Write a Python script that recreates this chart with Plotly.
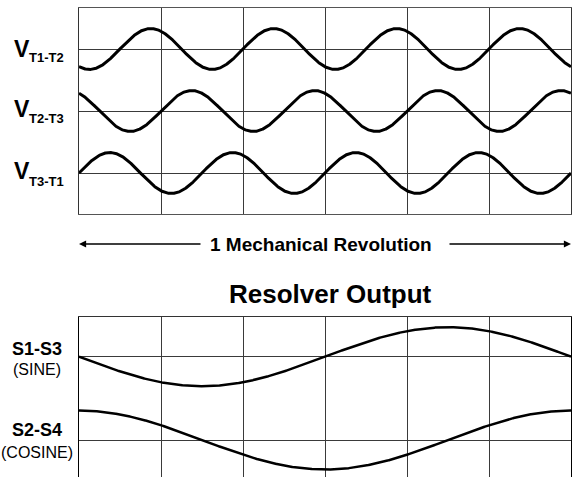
import numpy as np
import plotly.graph_objects as go

# ---- data ----
revolution_deg = [0, 360]
grid_x_deg = [0, 60, 120, 180, 240, 300, 360]

top_names = ["T1-T2", "T2-T3", "T3-T1"]
top_offsets = [2, 1, 0]
top_phase_deg = [-120, 120, 0]
top_cycles = 4
top_amp = 0.33

bot_names = ["S1-S3", "S2-S4"]
bot_sub = ["(SINE)", "(COSINE)"]
bot_offsets = [1, 0]
bot_phase_deg = [180, 90]
bot_cycles = 1
bot_amp = 0.354

# ---- layout geometry (pixels) ----
W, H = 572, 477
L, R, T, B = 79, 1, 8, 0
PW, PH = W - L - R, H - T - B


def px(xp):
    return (xp - L) / PW


def py(yp):
    return 1 - (yp - T) / PH


FONT = "Liberation Sans, Arial, sans-serif"
theta = np.linspace(revolution_deg[0], revolution_deg[1], 1441)

fig = go.Figure()
for off, ph, name in zip(top_offsets, top_phase_deg, top_names):
    y = off + top_amp * np.sin(np.radians(top_cycles * theta + ph))
    fig.add_trace(go.Scatter(x=theta, y=y, mode="lines", name=name,
                             line=dict(color="black", width=3),
                             xaxis="x", yaxis="y", showlegend=False,
                             hoverinfo="skip"))
for off, ph, name in zip(bot_offsets, bot_phase_deg, bot_names):
    y = off + bot_amp * np.sin(np.radians(bot_cycles * theta + ph))
    fig.add_trace(go.Scatter(x=theta, y=y, mode="lines", name=name,
                             line=dict(color="black", width=2.5),
                             xaxis="x2", yaxis="y2", showlegend=False,
                             hoverinfo="skip"))

grid_col = "#3a3a3a"
axis_common = dict(showticklabels=False, ticks="", zeroline=False,
                   showgrid=True, gridcolor=grid_col, gridwidth=1,
                   fixedrange=True)

fig.update_layout(
    width=W, height=H,
    margin=dict(l=L, r=R, t=T, b=B, pad=0),
    paper_bgcolor="white", plot_bgcolor="white",
    font=dict(family=FONT, color="black"),
    xaxis=dict(domain=[0, 1], range=revolution_deg, tickvals=grid_x_deg,
               showline=True, mirror=True, linecolor="#555", linewidth=1,
               anchor="y", **axis_common),
    yaxis=dict(domain=[py(214), 1], range=[-41 / 62, 2 + 41 / 62],
               tickvals=top_offsets, showline=True, mirror=True,
               linecolor="#333", linewidth=1, anchor="x", **axis_common),
    xaxis2=dict(domain=[0, 1], range=revolution_deg, tickvals=grid_x_deg,
                showline=True, mirror=False, side="top", linecolor="#333",
                linewidth=1, anchor="y2", **axis_common),
    yaxis2=dict(domain=[0, py(316.7)], range=[-37 / 83.3, 1 + 40 / 83.3],
                tickvals=bot_offsets, showline=True, mirror=True,
                linecolor="black", linewidth=1, anchor="x2", **axis_common),
)

ann = []
# V labels
v_centers = [49, 109.5, 170.5]
sub_centers = [57.5, 119, 181]
for name, vc, sc in zip(top_names, v_centers, sub_centers):
    ann.append(dict(text="<b>V</b>", x=px(21.5), y=py(vc), xref="paper",
                    yref="paper", xanchor="center", yanchor="middle",
                    showarrow=False, font=dict(size=23, family=FONT)))
    ann.append(dict(text="<b>" + name + "</b>", x=px(46), y=py(sc),
                    xref="paper", yref="paper", xanchor="center",
                    yanchor="middle", showarrow=False,
                    font=dict(size=13, family=FONT)))

# resolver labels
for name, sub, c1, c2 in zip(bot_names, bot_sub, [349, 430], [369, 452]):
    ann.append(dict(text="<b>" + name + "</b>", x=px(37), y=py(c1),
                    xref="paper", yref="paper", xanchor="center",
                    yanchor="middle", showarrow=False,
                    font=dict(size=18, family=FONT)))
    ann.append(dict(text=sub, x=px(37), y=py(c2), xref="paper", yref="paper",
                    xanchor="center", yanchor="middle", showarrow=False,
                    font=dict(size=16, family=FONT)))

# revolution arrow
arrow_y = py(244)
ann.append(dict(text="<b>1 Mechanical Revolution</b>", x=px(321), y=arrow_y,
                xref="paper", yref="paper", xanchor="center",
                yanchor="middle", showarrow=False,
                font=dict(size=19, family=FONT)))
ann.append(dict(text="", x=revolution_deg[0], y=arrow_y, xref="x",
                yref="paper", ax=90, ay=0, axref="x", ayref="pixel",
                showarrow=True, arrowhead=2, arrowsize=1.1, arrowwidth=1.3,
                arrowcolor="black"))
ann.append(dict(text="", x=revolution_deg[1], y=arrow_y, xref="x",
                yref="paper", ax=270, ay=0, axref="x", ayref="pixel",
                showarrow=True, arrowhead=2, arrowsize=1.1, arrowwidth=1.3,
                arrowcolor="black"))

# title of lower panel
ann.append(dict(text="<b>Resolver Output</b>", x=px(330.5), y=py(294),
                xref="paper", yref="paper", xanchor="center",
                yanchor="middle", showarrow=False,
                font=dict(size=26, family=FONT)))

fig.update_layout(annotations=ann)
fig.write_html(
    "out.html",
    config={"displayModeBar": False},
    post_script="document.body.style.margin='0';"
                "document.body.style.overflow='hidden';",
)
